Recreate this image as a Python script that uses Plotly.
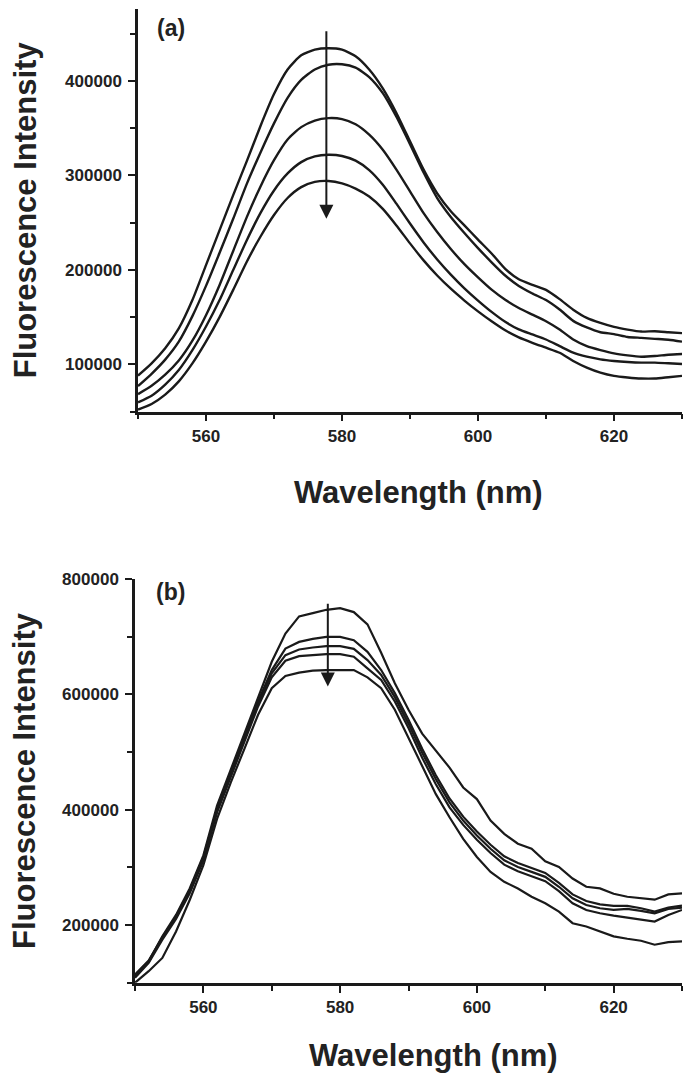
import plotly.graph_objects as go
from plotly.subplots import make_subplots

# wavelength grid shared by both panels (nm)
wavelength = list(range(550, 631, 2))

# panel (a) spectra, top to bottom
a1 = [88000, 101000, 117000, 138000, 168000, 205000, 242000, 279000, 315000, 352000,
      386000, 412000, 427000, 433000, 434500, 433000, 426000, 412000, 392000, 366000,
      336000, 306000, 281000, 262000, 247000, 232000, 217300, 201000, 190000, 184100,
      178800, 169000, 157800, 149100, 143800, 139600, 136800, 134700, 135000, 134000, 133000]
a2 = [77000, 90000, 105000, 124000, 151000, 183000, 218000, 254000, 291000, 324000,
      355000, 382000, 401000, 412000, 417000, 417500, 414000, 404000, 387000, 362000,
      333000, 303000, 276000, 256000, 239000, 223000, 208000, 194000, 183000, 175000,
      168000, 158000, 146000, 139000, 134000, 132000, 129000, 128000, 127000, 126000, 124000]
a3 = [68500, 77300, 89000, 104000, 125000, 152000, 184000, 220000, 255800, 288000,
      316000, 338000, 351000, 358000, 360500, 359500, 354000, 343000, 327000, 306000,
      283000, 260000, 240000, 222000, 206000, 192000, 179000, 168300, 159600, 152600,
      145600, 136800, 126300, 119300, 115100, 111600, 109500, 108100, 108800, 110200, 110900]
a4 = [59800, 66800, 78500, 94000, 115000, 140000, 168000, 199800, 231300, 260000,
      284000, 302000, 314000, 320000, 321800, 320500, 315500, 305500, 290000, 270000,
      249000, 229000, 211000, 195000, 180500, 167500, 155500, 145000, 137000, 131600,
      126300, 119300, 112300, 108100, 105300, 103600, 102500, 101800, 101800, 101100, 100400]
a5 = [52100, 58100, 68000, 82000, 101000, 124000, 150000, 178800, 208600, 235000,
      258000, 276000, 287500, 293000, 294000, 291500, 286000, 277500, 264500, 247000,
      228000, 210000, 194000, 180000, 167500, 156000, 145500, 136000, 128500, 122800,
      117600, 112300, 103600, 96600, 91300, 87800, 86100, 85000, 85000, 86400, 87800]

# panel (b) spectra, top to bottom
b1 = [113200, 137300, 180400, 217700, 263600, 321000, 407100, 470200, 533400, 596500,
      656800, 705600, 735400, 741200, 746900, 749800, 742900, 721600, 672300, 619500,
      573600, 532200, 502900, 473100, 438700, 418600, 381300, 358300, 341100, 332500,
      310700, 300900, 280800, 266500, 263600, 254400, 249200, 246400, 244100, 253300, 255000]
b2 = [114400, 138500, 178600, 214800, 260700, 318100, 401400, 464500, 526500, 587900,
      642400, 679700, 691200, 696400, 699800, 699800, 694100, 674000, 642400, 602300,
      556300, 505800, 459900, 419700, 388100, 362300, 339400, 319300, 307800, 299200,
      290600, 273300, 253300, 241800, 236000, 233200, 233200, 229200, 223400, 230300, 233700]
b3 = [111500, 136200, 177500, 213100, 257900, 315300, 398500, 461600, 523000, 583900,
      636700, 668300, 678000, 681500, 683800, 683800, 679200, 659700, 633800, 595400,
      549400, 498900, 453000, 412800, 381300, 355400, 332500, 312400, 300900, 292300,
      283700, 266500, 246400, 234900, 229200, 226300, 228000, 224600, 220500, 228000, 230300]
b4 = [108600, 134400, 174600, 210800, 255000, 312400, 395600, 457600, 519000, 579300,
      629800, 658500, 666500, 668800, 670000, 670000, 665400, 645300, 625200, 587900,
      542000, 490300, 444400, 404200, 373800, 348000, 325000, 304900, 293400, 284800,
      276200, 259000, 237800, 226300, 220500, 216500, 213100, 210800, 206200, 217700, 226300]
b5 = [100000, 120100, 143100, 189000, 243500, 303800, 384100, 447300, 505800, 564900,
      610900, 632100, 637800, 641300, 642400, 642400, 642400, 629800, 610900, 573600,
      524800, 476000, 427200, 387000, 349700, 318100, 292300, 275100, 263600, 249200,
      237800, 223400, 203300, 197600, 189000, 180400, 176300, 172900, 166000, 170600, 171800]

panel_a = [a1, a2, a3, a4, a5]
panel_b = [b1, b2, b3, b4, b5]

# quenching arrows: (wavelength, tail intensity, head intensity)
arrow_a = (577.7, 454000, 254000)
arrow_b = (578.2, 760000, 614000)

ink = "#1a1a1a"
font_family = "Liberation Sans, Arial, sans-serif"

fig = make_subplots(rows=2, cols=1)

for ys in panel_a:
    fig.add_trace(go.Scatter(x=wavelength, y=ys, mode="lines",
                             line=dict(color=ink, width=2.4, shape="spline", smoothing=0.6),
                             showlegend=False, hoverinfo="skip"), row=1, col=1)
for ys in panel_b:
    fig.add_trace(go.Scatter(x=wavelength, y=ys, mode="lines",
                             line=dict(color=ink, width=2.2),
                             showlegend=False, hoverinfo="skip"), row=2, col=1)

tick_font = dict(family=font_family, size=17, color="#222", weight="bold")
common_x = dict(range=[550, 630], tick0=0, dtick=20, ticks="outside", ticklen=7, tickwidth=2.2,
                tickcolor=ink, showline=True, linecolor=ink, linewidth=2.5, showgrid=False,
                zeroline=False, tickfont=tick_font, ticklabelstandoff=0,
                minor=dict(dtick=10, ticks="outside", ticklen=5, tickwidth=2, tickcolor=ink))
common_y = dict(ticks="outside", ticklen=7, tickwidth=2.2, tickcolor=ink, showline=True,
                linecolor=ink, linewidth=2.5, showgrid=False, zeroline=False,
                tickfont=tick_font, tickformat="d", tick0=0, ticklabelstandoff=3)

fig.update_xaxes(domain=[138 / 685, 682 / 685], **common_x, row=1, col=1)
fig.update_xaxes(domain=[135 / 685, 682 / 685], **common_x, row=2, col=1)
fig.update_yaxes(domain=[1 - 406 / 1073, 1.0], range=[50000, 476000], dtick=100000,
                 minor=dict(dtick=50000, ticks="outside", ticklen=5, tickwidth=2, tickcolor=ink),
                 **common_y, row=1, col=1)
fig.update_yaxes(domain=[1 - 982 / 1073, 1 - 575 / 1073], range=[100000, 800000], dtick=200000,
                 minor=dict(dtick=100000, ticks="outside", ticklen=5, tickwidth=2, tickcolor=ink),
                 **common_y, row=2, col=1)

title_font = dict(family=font_family, size=31, color="#222", weight="bold")
label_font = dict(family=font_family, size=23, color="#222", weight="bold")

annotations = []
# axis titles
for yc in [(1 - 406 / 1073 + 1.0) / 2, (1 - 982 / 1073 + 1 - 575 / 1073) / 2]:
    annotations.append(dict(text="Fluorescence Intensity", xref="paper", yref="paper",
                            x=25 / 685, y=yc, textangle=-90, showarrow=False,
                            xanchor="center", yanchor="middle", font=title_font))
for xc, yc in [(418 / 685, 1 - 488 / 1073), (433 / 685, 1 - 1055 / 1073)]:
    annotations.append(dict(text="Wavelength (nm)", xref="paper", yref="paper",
                            x=xc, y=yc, showarrow=False, xanchor="center", yanchor="middle",
                            font=title_font))
# panel labels
annotations.append(dict(text="(a)", xref="paper", yref="paper", x=171 / 685, y=1 - 19 / 1073,
                        showarrow=False, xanchor="center", yanchor="middle", font=label_font))
annotations.append(dict(text="(b)", xref="paper", yref="paper", x=170 / 685, y=1 - 588 / 1073,
                        showarrow=False, xanchor="center", yanchor="middle", font=label_font))
# arrows
for (wx, tail, head), xr, yr in [(arrow_a, "x", "y"), (arrow_b, "x2", "y2")]:
    annotations.append(dict(text="", x=wx, y=head, ax=wx, ay=tail, xref=xr, yref=yr,
                            axref=xr, ayref=yr, showarrow=True, arrowhead=2,
                            arrowsize=1.4, arrowwidth=2, arrowcolor=ink))

fig.update_layout(width=685, height=1073, margin=dict(l=0, r=0, t=0, b=0),
                  plot_bgcolor="white", paper_bgcolor="white",
                  annotations=annotations, showlegend=False)

# drop the browser's default body margin so the figure sits at the page corner
fig.write_html("out.html", config={"displayModeBar": False},
               post_script="document.body.style.margin = '0';")
